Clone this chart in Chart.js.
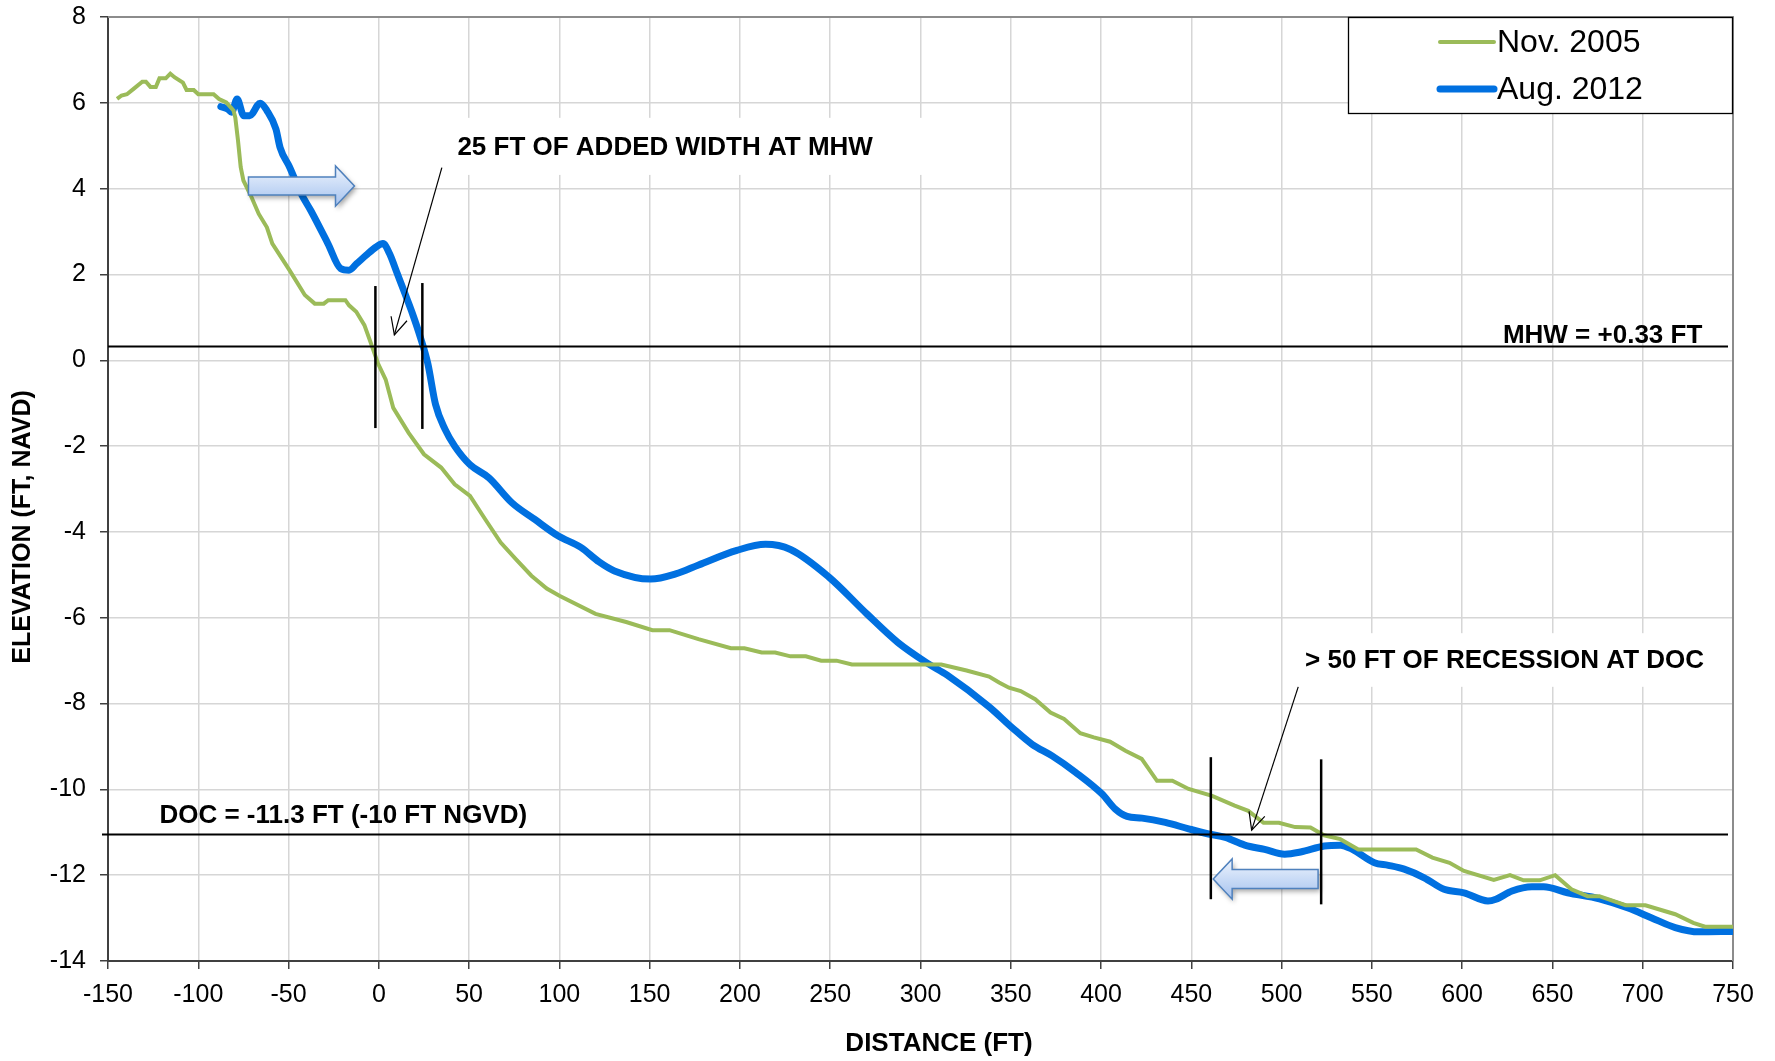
<!DOCTYPE html>
<html>
<head>
<meta charset="utf-8">
<script src="https://cdn.jsdelivr.net/npm/chart.js@4/dist/chart.umd.min.js"></script>
<style>
html,body{margin:0;padding:0;background:#fff;}
#wrap{width:1775px;height:1061px;}
</style>
</head>
<body>
<div id="wrap"><canvas id="c" width="1775" height="1061"></canvas></div>
<script>
// ---------------- DATA ----------------
const seriesNames = ['Nov. 2005', 'Aug. 2012'];

const nov2005X = [-145,-142.5,-139.5,-136,-131,-129,-126.5,-123.5,-121.5,-118,-115.5,-113,-108.5,-106.5,-102.5,-100,-91.5,-88.5,-84.5,-80.5,-79.5,-78,-76.5,-75,-70.5,-66.5,-62,-59,-49.5,-41,-35.5,-30.5,-28,-18.5,-16.5,-12.5,-8,-5,-0.5,3.8,8,16.5,25,34.5,42,50.5,59,67.5,76,84.5,93,100,120,137,151.5,161,177,195,202.5,212,219.5,228,236.5,245,253.5,262,311.5,325.5,338,343.5,349,355.5,363.5,372,379.5,388.5,396,405,413.5,422.5,431,439.5,448.5,461.5,474,481.5,490,498.5,507.5,516,523.5,532.5,542.5,574.5,583.5,593,601,617.5,626.5,634,643,651.5,660.5,669.5,676,690.5,701.5,718,728,734.5,750];
const nov2005Y = [6.09,6.17,6.2,6.32,6.49,6.49,6.37,6.37,6.57,6.57,6.68,6.59,6.47,6.3,6.3,6.2,6.2,6.09,6.01,5.82,5.66,5.12,4.5,4.19,3.8,3.41,3.1,2.72,2.1,1.52,1.32,1.32,1.4,1.4,1.28,1.13,0.82,0.47,-0.07,-0.45,-1.11,-1.69,-2.19,-2.5,-2.89,-3.16,-3.71,-4.25,-4.64,-5.02,-5.32,-5.49,-5.91,-6.1,-6.29,-6.29,-6.5,-6.71,-6.71,-6.81,-6.81,-6.9,-6.9,-7.0,-7.0,-7.09,-7.09,-7.23,-7.37,-7.51,-7.63,-7.71,-7.9,-8.21,-8.36,-8.69,-8.79,-8.89,-9.1,-9.29,-9.8,-9.8,-9.99,-10.15,-10.38,-10.5,-10.78,-10.78,-10.88,-10.89,-11.07,-11.16,-11.4,-11.4,-11.59,-11.71,-11.9,-12.11,-12.0,-12.12,-12.12,-12.0,-12.33,-12.49,-12.49,-12.7,-12.7,-12.91,-13.11,-13.2,-13.2];

const aug2012X = [-87.5,-83.5,-81.5,-78.5,-74.8,-71.5,-65.7,-62,-57,-54.7,-49.4,-43,-37.7,-28.2,-21.2,-16.5,-12.3,-7,-1.5,2.3,5.9,10.2,14.4,18.6,22.9,27.1,31.4,36.7,42,50.4,61,73.7,86.4,99.2,111.9,122,130.5,150.6,164.4,177.1,198.3,214.2,228,249.2,270.3,287.3,304.2,314.8,338.1,350.7,361.8,372.9,385.8,400.6,407.9,414.4,422.7,435.6,448.5,459.6,468.8,479.6,490.6,501.7,510.5,523.7,532.6,539.2,551.4,559.1,567.9,579,590,601,614.3,618.7,627.6,638.6,645.1,658.4,676,691.5,704.7,718,731.1,750];
const aug2012Y = [5.91,5.85,5.78,6.09,5.70,5.70,5.99,5.82,5.39,4.96,4.5,3.88,3.49,2.72,2.14,2.1,2.25,2.45,2.64,2.72,2.49,2.02,1.56,1.09,0.55,-0.07,-1.03,-1.61,-2.0,-2.43,-2.74,-3.32,-3.71,-4.09,-4.36,-4.7,-4.91,-5.10,-4.98,-4.77,-4.43,-4.29,-4.41,-5.05,-5.91,-6.57,-7.07,-7.34,-8.08,-8.56,-8.95,-9.22,-9.60,-10.11,-10.46,-10.63,-10.67,-10.77,-10.92,-11.04,-11.12,-11.3,-11.4,-11.51,-11.46,-11.32,-11.30,-11.40,-11.71,-11.77,-11.86,-12.06,-12.33,-12.41,-12.60,-12.56,-12.37,-12.27,-12.27,-12.41,-12.55,-12.76,-12.99,-13.22,-13.32,-13.31];

// x ticks every 50 from -150 to 750; y ticks every 2 from -14 to 8
const xTickValues = [-150,-100,-50,0,50,100,150,200,250,300,350,400,450,500,550,600,650,700,750];
const yTickValues = [-14,-12,-10,-8,-6,-4,-2,0,2,4,6,8];

// reference levels
const refLevels = [0.33, -11.05];
const refLabels = ['MHW = +0.33 FT', 'DOC = -11.3 FT (-10 FT NGVD)'];

// shoreline-position markers (data units)
const markerX = [-1.9, 24.1, 460.8, 521.9];
const markerTop = [1.73, 1.80, -9.25, -9.30];
const markerBottom = [-1.58, -1.60, -12.56, -12.68];

const calloutTexts = ['25 FT OF ADDED WIDTH AT MHW', '> 50 FT OF RECESSION AT DOC'];

// ---------------- STYLE / LAYOUT ----------------
const FONT = '"Liberation Sans", Arial, Helvetica, sans-serif';
const GREEN = '#9BBB59';
const BLUE = '#0070E0';

// annotation geometry, in data units
const callouts = [
  {text: calloutTexts[0], tx: 43.5, ty: 4.95, box: [37, 302.6, 5.65, 4.32], from: [34.9, 4.49], to: [8.6, 0.59]},
  {text: calloutTexts[1], tx: 513.0, ty: -7.0, box: [508.5, 747, -6.36, -7.61], from: [509.2, -7.61], to: [483.4, -10.95]}
];
const blockArrows = [
  {tail: -72.2, base: -24.0, tip: -13.5, cy: 4.06, body: 0.21, head: 0.47},
  {tail: 520.2, base: 472.6, tip: 462.1, cy: -12.09, body: 0.22, head: 0.47}
];

function pts(xs, ys){ return xs.map((x,i)=>({x:x, y:ys[i]})); }

const annotationPlugin = {
  id: 'annot',
  beforeDatasetsDraw(chart){
    const {ctx, chartArea:a, scales:{x, y}} = chart;
    ctx.save();
    // frame top/right
    ctx.strokeStyle = '#8c8c8c';
    ctx.lineWidth = 2;
    ctx.beginPath();
    ctx.moveTo(a.left, a.top); ctx.lineTo(a.right, a.top); ctx.lineTo(a.right, a.bottom);
    ctx.stroke();
    // white boxes behind callout texts
    ctx.fillStyle = '#ffffff';
    callouts.forEach(c=>{
      const x1 = x.getPixelForValue(c.box[0]), x2 = x.getPixelForValue(c.box[1]);
      const y1 = y.getPixelForValue(c.box[2]), y2 = y.getPixelForValue(c.box[3]);
      ctx.fillRect(x1, y1, x2-x1, y2-y1);
    });
    ctx.restore();
  },
  afterDatasetsDraw(chart){
    const {ctx, chartArea:a, scales:{x, y}} = chart;
    ctx.save();
    // reference lines
    ctx.strokeStyle = '#000';
    ctx.lineWidth = 2.2;
    refLevels.forEach((lv, i)=>{
      const py = Math.round(y.getPixelForValue(lv)) + 0.5;
      ctx.beginPath();
      ctx.moveTo(i === 0 ? a.left : a.left - 6, py);
      ctx.lineTo(a.right - 5, py);
      ctx.stroke();
    });
    ctx.fillStyle = '#000';
    ctx.font = 'bold 26px ' + FONT;
    ctx.textBaseline = 'middle';
    // MHW label (right side, above line)
    ctx.textAlign = 'right';
    ctx.fillText(refLabels[0], x.getPixelForValue(733), y.getPixelForValue(refLevels[0]) - 10);
    // DOC label (left side, above line)
    ctx.textAlign = 'left';
    ctx.fillText(refLabels[1], x.getPixelForValue(-121.5), y.getPixelForValue(refLevels[1]) - 19);

    // markers
    ctx.lineWidth = 2.5;
    markerX.forEach((mx, i)=>{
      const px = x.getPixelForValue(mx);
      ctx.beginPath();
      ctx.moveTo(px, y.getPixelForValue(markerTop[i]));
      ctx.lineTo(px, y.getPixelForValue(markerBottom[i]));
      ctx.stroke();
    });

    // callout texts + pointer arrows
    callouts.forEach(c=>{
      ctx.fillStyle = '#000';
      ctx.font = 'bold 26px ' + FONT;
      ctx.textAlign = 'left';
      ctx.textBaseline = 'middle';
      ctx.fillText(c.text, x.getPixelForValue(c.tx), y.getPixelForValue(c.ty));
      const x1 = x.getPixelForValue(c.from[0]), y1 = y.getPixelForValue(c.from[1]);
      const x2 = x.getPixelForValue(c.to[0]), y2 = y.getPixelForValue(c.to[1]);
      ctx.lineWidth = 1.2;
      ctx.strokeStyle = '#000';
      ctx.beginPath(); ctx.moveTo(x1, y1); ctx.lineTo(x2, y2); ctx.stroke();
      const ang = Math.atan2(y2 - y1, x2 - x1);
      const L = 19, sp = 0.45;
      ctx.beginPath();
      ctx.moveTo(x2 - L*Math.cos(ang - sp), y2 - L*Math.sin(ang - sp));
      ctx.lineTo(x2, y2);
      ctx.lineTo(x2 - L*Math.cos(ang + sp), y2 - L*Math.sin(ang + sp));
      ctx.stroke();
    });

    // block arrows
    blockArrows.forEach(b=>{
      const pt = x.getPixelForValue(b.tail), pb = x.getPixelForValue(b.base), pp = x.getPixelForValue(b.tip);
      const cy = y.getPixelForValue(b.cy);
      const bh = y.getPixelForValue(b.cy - b.body) - cy;
      const hh = y.getPixelForValue(b.cy - b.head) - cy;
      ctx.save();
      ctx.beginPath();
      ctx.moveTo(pt, cy - bh);
      ctx.lineTo(pb, cy - bh);
      ctx.lineTo(pb, cy - hh);
      ctx.lineTo(pp, cy);
      ctx.lineTo(pb, cy + hh);
      ctx.lineTo(pb, cy + bh);
      ctx.lineTo(pt, cy + bh);
      ctx.closePath();
      const g = ctx.createLinearGradient(0, cy - hh, 0, cy + hh);
      g.addColorStop(0, '#eef4fd');
      g.addColorStop(0.5, '#c9dbf6');
      g.addColorStop(1, '#a6c2ee');
      ctx.shadowColor = 'rgba(0,0,0,0.35)';
      ctx.shadowBlur = 5;
      ctx.shadowOffsetX = 2;
      ctx.shadowOffsetY = 3;
      ctx.fillStyle = g;
      ctx.fill();
      ctx.shadowColor = 'transparent';
      ctx.strokeStyle = '#4f81bd';
      ctx.lineWidth = 1.5;
      ctx.stroke();
      ctx.restore();
    });

    // legend box
    const lx1 = 1348, lx2 = a.right, ly1 = a.top, ly2 = a.top + 96;
    ctx.fillStyle = '#fff';
    ctx.fillRect(lx1, ly1, lx2 - lx1, ly2 - ly1);
    ctx.strokeStyle = '#000';
    ctx.lineWidth = 1.3;
    ctx.strokeRect(lx1 + 0.5, ly1 + 0.5, lx2 - lx1 - 1, ly2 - ly1);
    const entryY = [ly1 + 25, ly1 + 72];
    chart.data.datasets.forEach((ds, i)=>{
      ctx.strokeStyle = ds.borderColor;
      ctx.lineWidth = ds.borderWidth;
      ctx.lineCap = 'round';
      ctx.beginPath();
      ctx.moveTo(1440, entryY[i]); ctx.lineTo(1494, entryY[i]);
      ctx.stroke();
      ctx.fillStyle = '#000';
      ctx.font = '32px ' + FONT;
      ctx.textAlign = 'left';
      ctx.textBaseline = 'middle';
      ctx.fillText(ds.label, 1497, entryY[i] + 1);
    });

    // axis titles
    ctx.fillStyle = '#000';
    ctx.font = 'bold 26px ' + FONT;
    ctx.textAlign = 'center';
    ctx.textBaseline = 'middle';
    ctx.fillText('DISTANCE (FT)', 939, 1044);
    ctx.save();
    ctx.translate(23, 527);
    ctx.rotate(-Math.PI/2);
    ctx.font = 'bold 25px ' + FONT;
    ctx.fillText('ELEVATION (FT, NAVD)', 0, 0);
    ctx.restore();

    ctx.restore();
  }
};

new Chart(document.getElementById('c'), {
  type: 'line',
  data: {
    datasets: [
      {label: seriesNames[0], data: pts(nov2005X, nov2005Y), borderColor: GREEN, borderWidth: 4, pointRadius: 0, tension: 0, fill: false},
      {label: seriesNames[1], data: pts(aug2012X, aug2012Y), borderColor: BLUE, borderWidth: 7, pointRadius: 0, cubicInterpolationMode: 'monotone', fill: false, borderCapStyle: 'round', borderJoinStyle: 'round'}
    ]
  },
  options: {
    responsive: false,
    animation: false,
    devicePixelRatio: 1,
    layout: {padding: {left: 0, right: 42, top: 17, bottom: 0}},
    plugins: {legend: {display: false}, tooltip: {enabled: false}, title: {display: false}},
    scales: {
      x: {
        type: 'linear', min: -150, max: 750,
        afterFit(s){ s.height = 100; s.paddingLeft = 0; s.paddingRight = 0; },
        afterBuildTicks(s){ s.ticks = xTickValues.map(v=>({value: v})); },
        ticks: {color: '#000', font: {family: FONT, size: 25}, padding: 11, maxRotation: 0, autoSkip: false},
        grid: {color: '#d6d6d6', lineWidth: 1.5, tickColor: '#404040', tickLength: 8},
        border: {color: '#404040', width: 2}
      },
      y: {
        type: 'linear', min: -14, max: 8,
        afterFit(s){ s.width = 108; s.paddingTop = 0; s.paddingBottom = 0; },
        afterBuildTicks(s){ s.ticks = yTickValues.map(v=>({value: v})); },
        ticks: {color: '#000', font: {family: FONT, size: 25}, padding: 14, autoSkip: false},
        grid: {color: '#d6d6d6', lineWidth: 1.5, tickColor: '#404040', tickLength: 8},
        border: {color: '#404040', width: 2}
      }
    }
  },
  plugins: [annotationPlugin]
});
</script>
</body>
</html>
